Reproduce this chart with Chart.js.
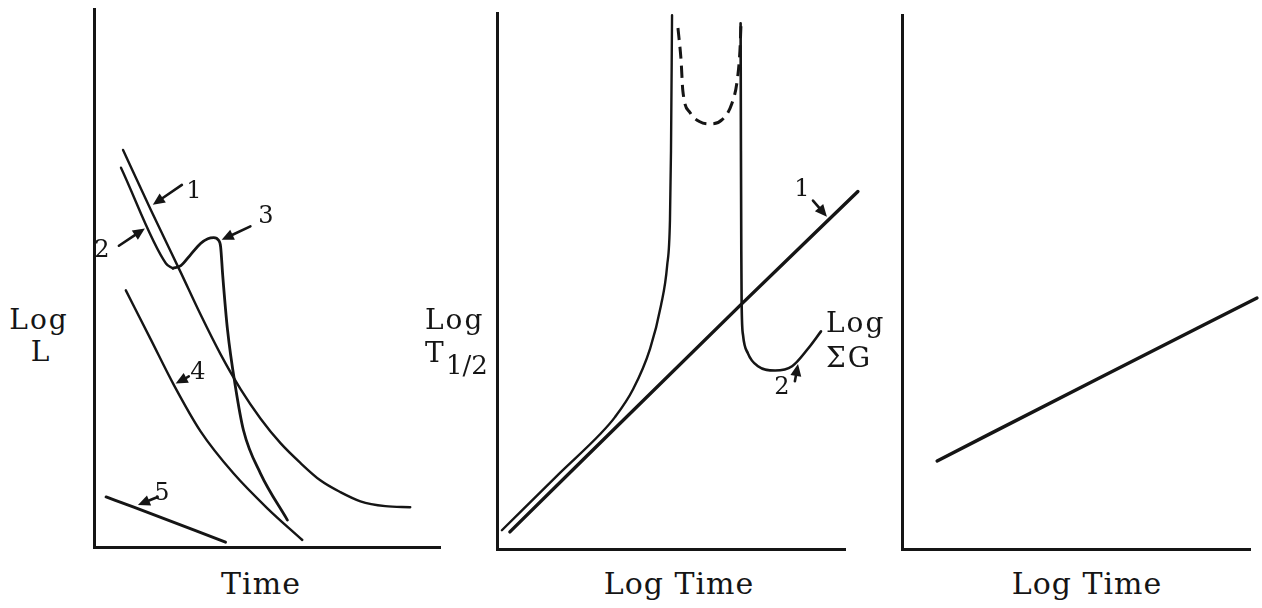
<!DOCTYPE html>
<html>
<head>
<meta charset="utf-8">
<script src="https://cdn.jsdelivr.net/npm/chart.js@4"></script>
<style>
html,body{margin:0;padding:0;background:#fff;width:1262px;height:608px;overflow:hidden;}
canvas{position:absolute;top:0;}
.t{position:absolute;font-family:"DejaVu Serif",serif;color:#151515;line-height:1;white-space:nowrap;z-index:2;}
.ax{font-size:30px;letter-spacing:1px;transform:translateX(-50%);}
.yl{font-size:28px;letter-spacing:2px;}
.n{font-size:24px;transform:translateX(-50%);}
</style>
</head>
<body>
<canvas id="c1" width="366" height="557" style="left:84px"></canvas>
<canvas id="c2" width="378" height="559" style="left:487px"></canvas>
<canvas id="c3" width="370" height="559" style="left:892px"></canvas>

<!-- axis titles -->
<div class="t ax" style="left:261px;top:569px">Time</div>
<div class="t ax" style="left:679px;top:569px">Log Time</div>
<div class="t ax" style="left:1087px;top:569px">Log Time</div>

<div class="t yl" style="left:39px;top:306px;transform:translateX(-50%)">Log</div>
<div class="t yl" style="left:41px;top:338px;transform:translateX(-50%)">L</div>

<div class="t yl" style="left:425px;top:306px">Log</div>
<div class="t" style="left:425px;top:339px;font-size:28px">T</div>
<div class="t" style="left:446px;top:352px;font-size:26px">1/2</div>

<div class="t yl" style="left:826px;top:309px">Log</div>
<div class="t yl" style="left:826px;top:344px">ΣG</div>

<!-- curve numbers -->
<div class="t n" style="left:194px;top:178px">1</div>
<div class="t n" style="left:102px;top:237px">2</div>
<div class="t n" style="left:266px;top:203px">3</div>
<div class="t n" style="left:198px;top:359px">4</div>
<div class="t n" style="left:162px;top:480px">5</div>
<div class="t n" style="left:802px;top:176px">1</div>
<div class="t n" style="left:782px;top:374px">2</div>

<script>
// ---------- Panel 1: Log L vs Time (arbitrary 0-100 units) ----------
const p1Curve1X = [8.4, 16.4, 25.1, 30.8, 36.6, 42.4, 48.1, 53.9, 59.7, 65.4, 71.2, 77.0, 84.2, 91.4];
const p1Curve1Y = [73.8, 62.7, 51.0, 43.2, 35.8, 29.3, 23.9, 19.3, 15.6, 12.4, 10.2, 8.5, 7.6, 7.4];
const p1Curve2X = [7.8, 20.8, 22.8];
const p1Curve2Y = [70.5, 52.7, 51.8];
const p1Curve3X = [22.8, 25.1, 28.0, 30.8, 32.9, 34.6, 36.0, 36.6, 37.2, 38.6, 40.9, 43.2, 48.1, 55.9];
const p1Curve3Y = [51.8, 52.3, 54.4, 56.4, 57.3, 57.5, 57.0, 55.8, 50.5, 40.3, 29.7, 21.7, 13.7, 5.0];
const p1Curve4X = [9.2, 16.4, 23.1, 30.8, 40.3, 50.1, 60.2];
const p1Curve4Y = [47.7, 38.6, 30.1, 21.5, 13.7, 7.2, 1.3];
const p1Curve5X = [3.5, 11.5, 38.0];
const p1Curve5Y = [9.3, 7.4, 0.9];
// label arrows [fromX, fromY, toX, toY]
const p1Arrows = [
  [25.4, 67.3, 17.0, 63.6],
  [7.2, 56.0, 14.7, 59.2],
  [45.2, 59.6, 36.9, 57.1],
  [27.4, 31.7, 23.6, 30.4],
  [18.4, 9.3, 12.7, 7.8]
];

// ---------- Panel 2: Log T1/2 vs Log Time ----------
const p2Line1X = [3.7, 69.8, 103.7];
const p2Line1Y = [3.2, 45.4, 66.7];
const p2Curve2LeftX = [1.4, 18.1, 29.6, 33.9, 39.1, 44.0, 47.1, 48.9, 49.7, 50.0, 50.3];
const p2Curve2LeftY = [3.5, 14.2, 21.4, 24.6, 29.8, 37.4, 45.4, 52.9, 61.3, 74.3, 99.6];
const p2Curve2RightX = [70.0, 70.1, 70.2, 70.3, 70.7, 72.1, 75.0, 79.9, 84.8, 89.4, 93.1];
const p2Curve2RightY = [98.1, 74.3, 55.7, 45.6, 39.9, 36.5, 34.1, 33.3, 34.1, 37.4, 40.6];
const p2DashedX = [52.0, 52.9, 53.4, 55.5, 58.3, 61.2, 64.7, 67.5, 69.0, 69.8, 70.1];
const p2DashedY = [97.2, 91.1, 85.5, 81.4, 79.7, 79.3, 80.1, 83.1, 87.3, 92.9, 97.6];
const p2Arrows = [
  [90.8, 65.0, 94.8, 62.0],
  [85.6, 31.3, 86.5, 34.5]
];

// ---------- Panel 3: Log ΣG vs Log Time ----------
const p3LineX = [10.1, 56.0, 102.0];
const p3LineY = [16.5, 31.8, 47.0];
const p3Arrows = [];

const INK = '#151515';

function pts(xs, ys) { return xs.map((x, i) => ({ x: x, y: ys[i] })); }

function curve(label, xs, ys, width, dash) {
  return {
    label: label,
    data: pts(xs, ys),
    showLine: true,
    pointRadius: 0,
    pointHoverRadius: 0,
    borderColor: INK,
    backgroundColor: INK,
    borderWidth: width,
    borderDash: dash || [],
    cubicInterpolationMode: 'monotone',
    capBezierPoints: false,
    borderCapStyle: dash ? 'butt' : 'round',
    borderJoinStyle: 'round',
    fill: false,
    clip: false
  };
}

const arrowPlugin = {
  id: 'arrows',
  afterDatasetsDraw(chart, args, opts) {
    const list = (opts && opts.list) || [];
    const ctx = chart.ctx, xs = chart.scales.x, ys = chart.scales.y;
    ctx.save();
    ctx.strokeStyle = INK; ctx.fillStyle = INK;
    ctx.lineWidth = 2.6; ctx.lineCap = 'round';
    list.forEach(a => {
      const x1 = xs.getPixelForValue(a[0]), y1 = ys.getPixelForValue(a[1]);
      const x2 = xs.getPixelForValue(a[2]), y2 = ys.getPixelForValue(a[3]);
      const ang = Math.atan2(y2 - y1, x2 - x1);
      const hl = 12, hw = 5.5;
      const bx = x2 - hl * Math.cos(ang), by = y2 - hl * Math.sin(ang);
      ctx.beginPath(); ctx.moveTo(x1, y1); ctx.lineTo(bx, by); ctx.stroke();
      ctx.beginPath();
      ctx.moveTo(x2, y2);
      ctx.lineTo(bx + hw * Math.sin(ang), by - hw * Math.cos(ang));
      ctx.lineTo(bx - hw * Math.sin(ang), by + hw * Math.cos(ang));
      ctx.closePath(); ctx.fill();
    });
    ctx.restore();
  }
};

function axis() {
  return {
    type: 'linear', min: 0, max: 100,
    ticks: { display: false },
    grid: { display: false, drawTicks: false },
    border: { display: true, color: INK, width: 3 },
    title: { display: false }
  };
}

function makeChart(id, datasets, arrows, pad) {
  return new Chart(document.getElementById(id), {
    type: 'scatter',
    data: { datasets: datasets },
    options: {
      responsive: false,
      animation: false,
      events: [],
      layout: { padding: pad },
      plugins: { legend: { display: false }, tooltip: { enabled: false }, arrows: { list: arrows } },
      scales: { x: axis(), y: axis() }
    },
    plugins: [arrowPlugin]
  });
}

makeChart('c1', [
  curve('1', p1Curve1X, p1Curve1Y, 2.4),
  curve('2', p1Curve2X, p1Curve2Y, 2.4),
  curve('3', p1Curve3X, p1Curve3Y, 2.8),
  curve('4', p1Curve4X, p1Curve4Y, 2.4),
  curve('5', p1Curve5X, p1Curve5Y, 3)
], p1Arrows, { left: 10, right: 10, top: 9, bottom: 10 });

makeChart('c2', [
  curve('1', p2Line1X, p2Line1Y, 3.4),
  curve('2', p2Curve2LeftX, p2Curve2LeftY, 2.4),
  curve('2b', p2Curve2RightX, p2Curve2RightY, 2.6),
  curve('dashed', p2DashedX, p2DashedY, 3, [12, 7])
], p2Arrows, { left: 10, right: 20, top: 13, bottom: 10 });

makeChart('c3', [
  curve('Log ΣG', p3LineX, p3LineY, 3.4)
], p3Arrows, { left: 10, right: 12, top: 15, bottom: 10 });
</script>
</body>
</html>
